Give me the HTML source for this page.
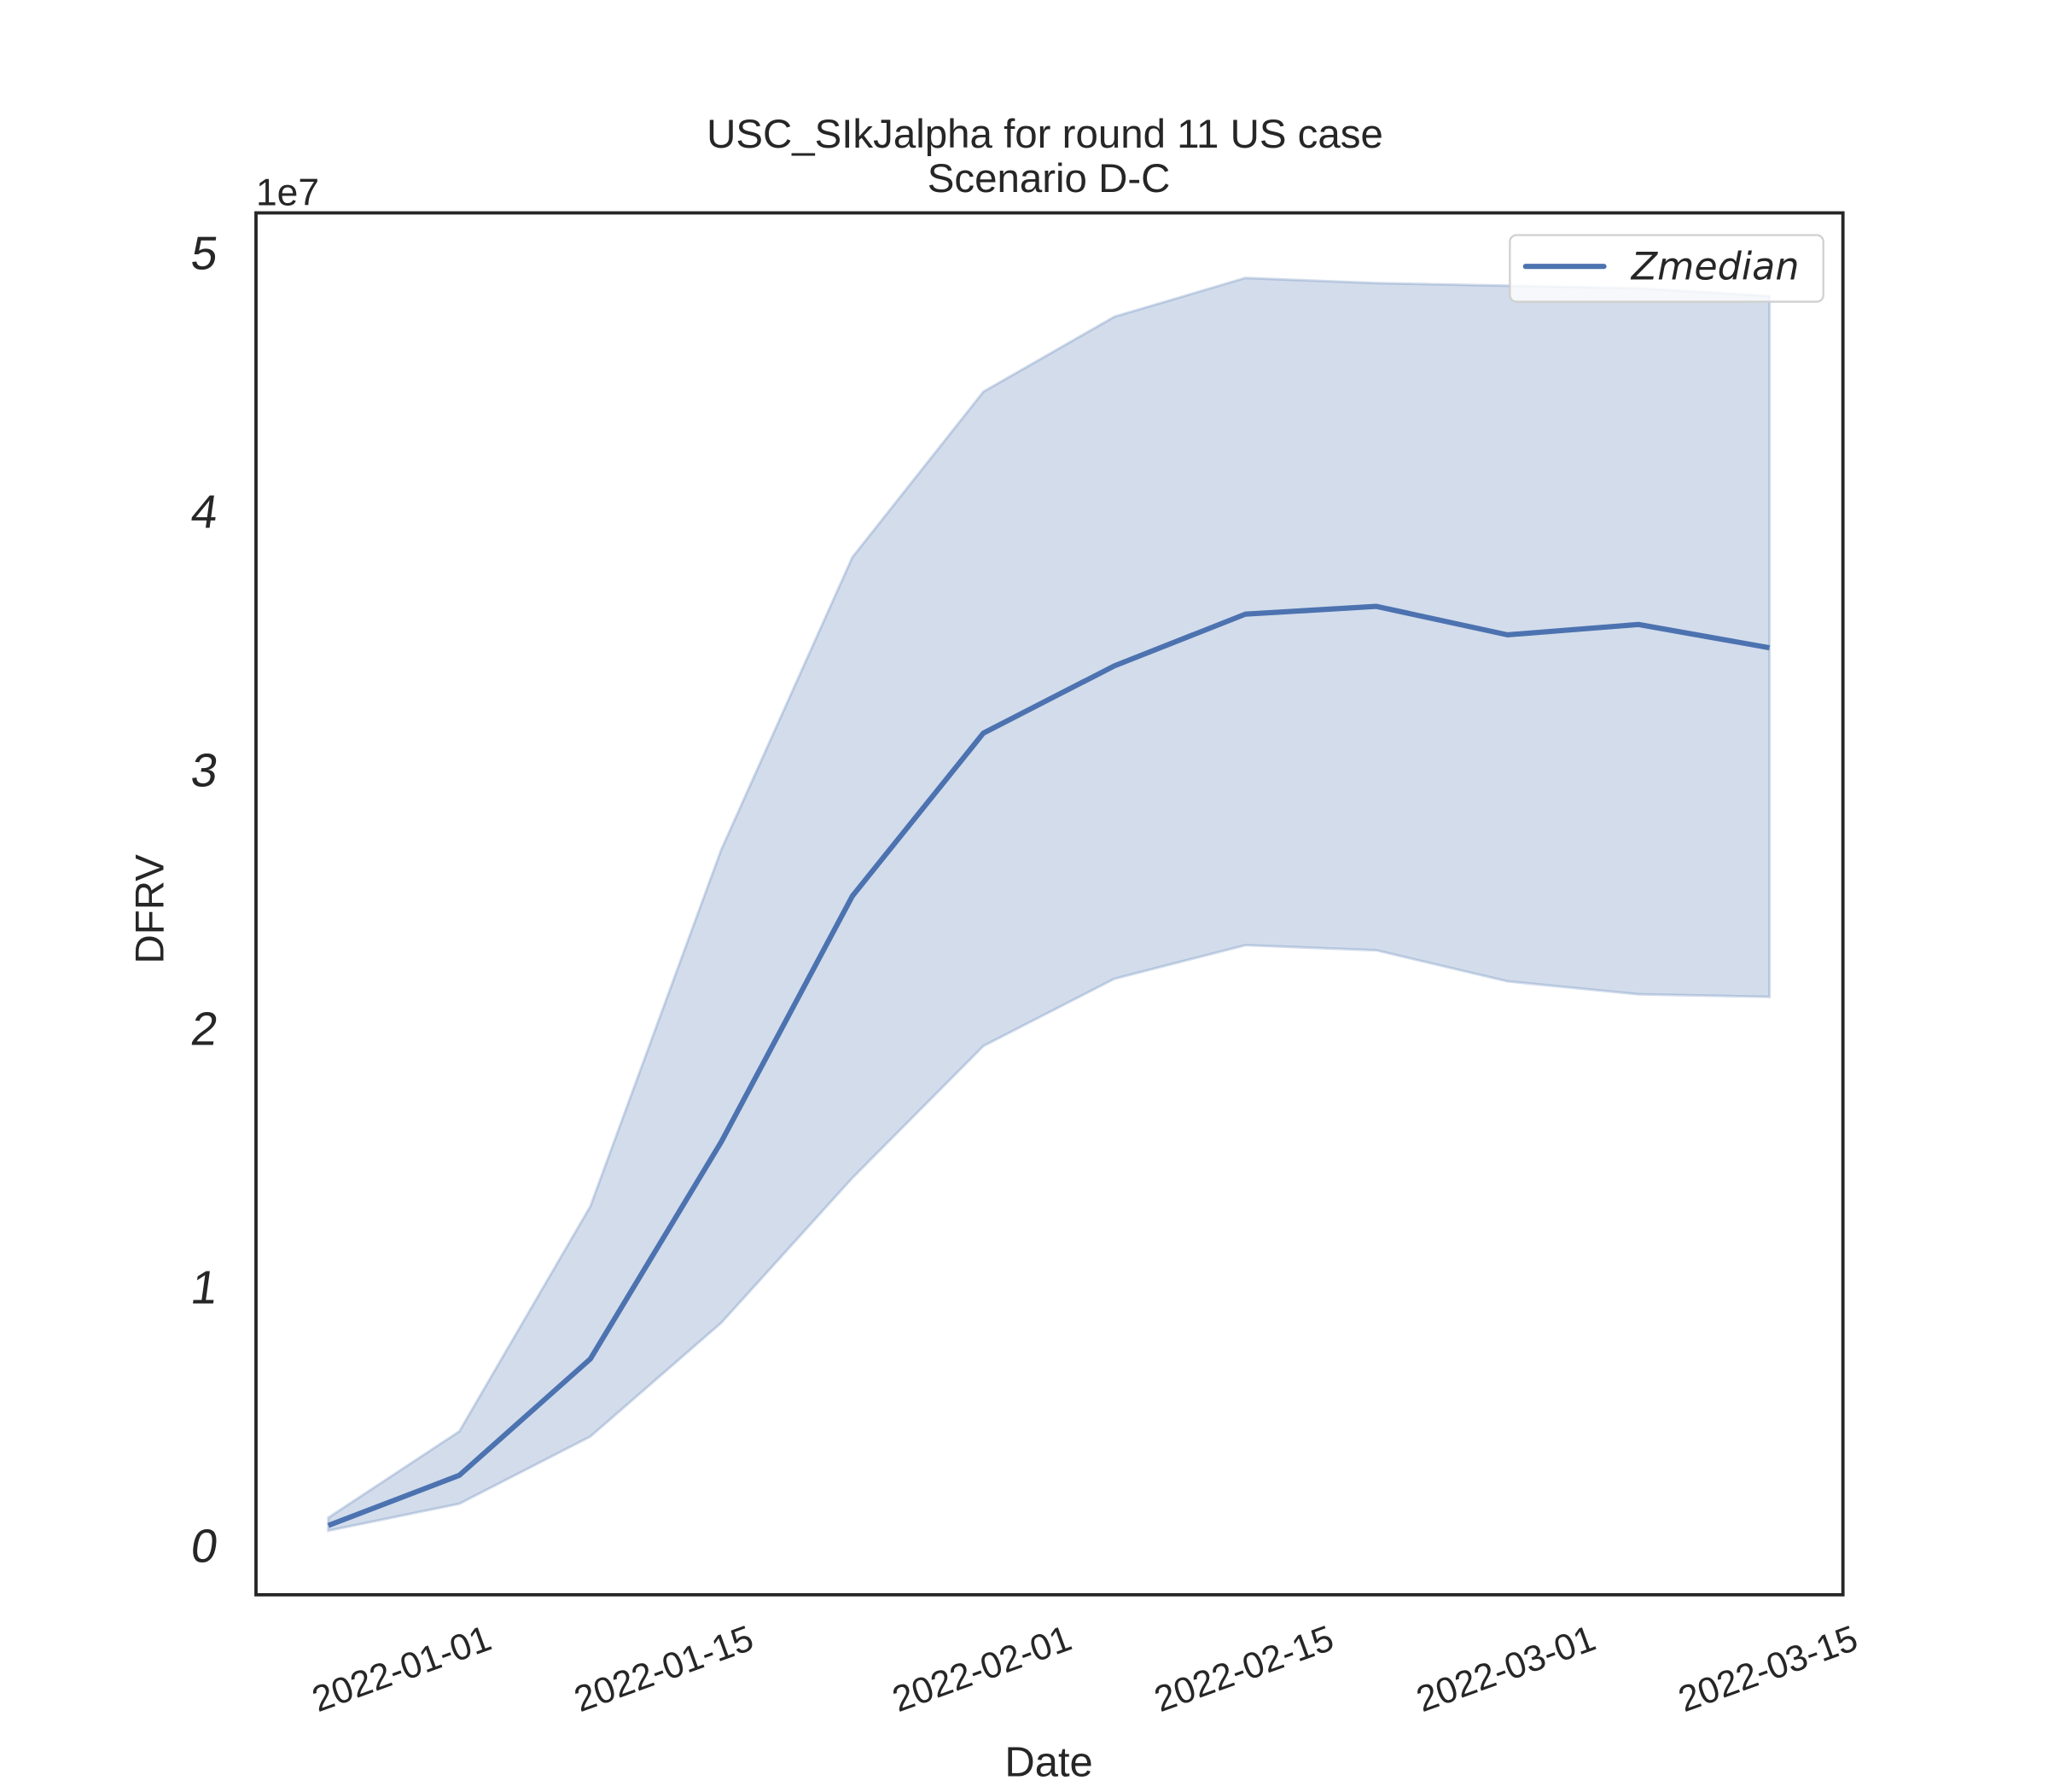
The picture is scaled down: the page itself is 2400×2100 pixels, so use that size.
<!DOCTYPE html>
<html><head><meta charset="utf-8"><style>
html,body{margin:0;padding:0;background:#fff;}
svg{display:block;}
text{fill:#262626;font-family:"Liberation Sans",sans-serif;}
</style></head><body>
<svg id="chart" width="2400" height="2100" viewBox="0 0 1568 1372" xmlns="http://www.w3.org/2000/svg">
<rect width="1568" height="1372" fill="#fff"/>
<text x="800" y="113" font-size="31" text-anchor="middle">USC_SIkJalpha for round 11 US case</text>
<text x="803" y="147" font-size="31" text-anchor="middle">Scenario D-C</text>
<text x="196" y="157" font-size="29">1e7</text>
<text transform="translate(125,696) rotate(-90)" font-size="31" text-anchor="middle">DFRV</text>
<text x="803" y="1360" font-size="32" text-anchor="middle">Date</text>
<g id="plot"></g>
<g id="ticks"></g>
<rect x="196" y="163" width="1215" height="1058" fill="none" stroke="#262626" stroke-width="2.5"/>
<g>
<rect x="1156" y="180" width="240" height="51" rx="5" fill="#fff" fill-opacity="0.8" stroke="#d0d0d0" stroke-width="1.5"/>
<line x1="1168" y1="204" x2="1228" y2="204" stroke="#4c72b0" stroke-width="4" stroke-linecap="round"/>
<text x="1249" y="214" font-size="29" font-style="italic" style="font-family:'DejaVu Sans',sans-serif">Zmedian</text>
</g>
</svg>
<script>
const dates = ["2021-12-24","2021-12-31","2022-01-07","2022-01-14","2022-01-21","2022-01-28","2022-02-04","2022-02-11","2022-02-18","2022-02-25","2022-03-04","2022-03-11"];
const median = [0.076,0.27,0.72,1.56,2.51,3.14,3.40,3.60,3.63,3.52,3.56,3.47];
const upper = [0.106,0.44,1.31,2.69,3.82,4.46,4.75,4.90,4.88,4.87,4.86,4.83];
const lower = [0.056,0.16,0.42,0.86,1.42,1.93,2.19,2.32,2.30,2.18,2.13,2.12];
const xTickLabels = ["2022-01-01","2022-01-15","2022-02-01","2022-02-15","2022-03-01","2022-03-15"];
const yTickValues = [0,1,2,3,4,5];

const NS = "http://www.w3.org/2000/svg";
const t0 = Date.UTC(2022,0,1);
function dayOf(s){const p=s.split("-");return (Date.UTC(+p[0],+p[1]-1,+p[2])-t0)/86400000;}
function xScale(s){return 366 + dayOf(s)*14.33;}
function yScale(v){return 1183 - v*198;}

const plot = document.getElementById("plot");
let d = "";
upper.forEach((v,i)=>{d += (i?"L":"M")+xScale(dates[i])+","+yScale(v);});
for(let i=lower.length-1;i>=0;i--){d += "L"+xScale(dates[i])+","+yScale(lower[i]);}
d += "Z";
const band = document.createElementNS(NS,"path");
band.setAttribute("d",d);
band.setAttribute("fill","#4c72b0");
band.setAttribute("fill-opacity","0.25");
band.setAttribute("stroke","#4c72b0");
band.setAttribute("stroke-opacity","0.25");
band.setAttribute("stroke-width","2");


plot.appendChild(band);

const line = document.createElementNS(NS,"polyline");
line.setAttribute("points",median.map((v,i)=>xScale(dates[i])+","+yScale(v)).join(" "));
line.setAttribute("fill","none");
line.setAttribute("stroke","#4c72b0");
line.setAttribute("stroke-width","4");
line.setAttribute("stroke-linejoin","round");


plot.appendChild(line);

const ticks = document.getElementById("ticks");
xTickLabels.forEach(lbl=>{
  const x = xScale(lbl);
  const t = document.createElementNS(NS,"text");
  t.setAttribute("transform","translate("+(x+12)+",1262) rotate(-20)");
  t.setAttribute("text-anchor","end");
  t.setAttribute("font-size","28");
  t.textContent = lbl;
  
  
  ticks.appendChild(t);
});
yTickValues.forEach(v=>{
  const y = yScale(v);
  const t = document.createElementNS(NS,"text");
  t.setAttribute("transform","translate(155,"+(y+13)+") skewX(-8)");
  t.setAttribute("text-anchor","middle");
  t.setAttribute("font-size","36");
  t.textContent = String(v);
  
  
  ticks.appendChild(t);
});
</script>
</body></html>
